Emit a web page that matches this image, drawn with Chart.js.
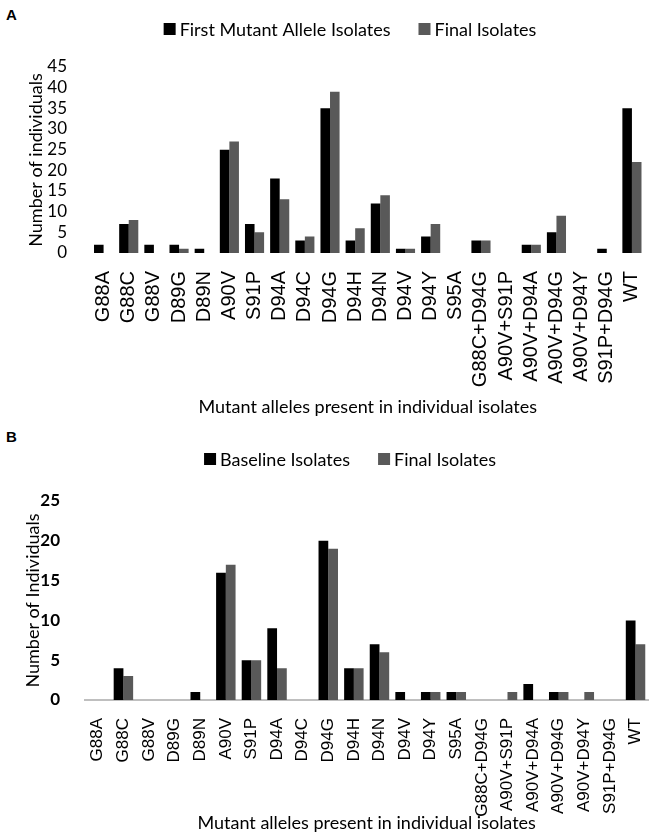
<!DOCTYPE html>
<html>
<head>
<meta charset="utf-8">
<script src="https://cdn.jsdelivr.net/npm/chart.js@4.4.1/dist/chart.umd.min.js"></script>
<style>
  body { margin:0; background:#fff; width:666px; height:837px; position:relative; overflow:hidden; }
  .panel { position:absolute; left:0; width:666px; }
  .tag { position:absolute; left:6px; font:bold 15px "Liberation Sans", Arial, sans-serif; color:#000; }
</style>
</head>
<body>
<div class="tag" style="top:6px">A</div>
<div class="tag" style="top:428px">B</div>
<canvas id="chartA" class="panel" style="top:0" width="666" height="420"></canvas>
<canvas id="chartB" class="panel" style="top:420px" width="666" height="417"></canvas>
<script>
/* ---------- data ---------- */
const alleles = ['G88A','G88C','G88V','D89G','D89N','A90V','S91P','D94A','D94C','D94G','D94H',
  'D94N','D94V','D94Y','S95A','G88C+D94G','A90V+S91P','A90V+D94A','A90V+D94G','A90V+D94Y','S91P+D94G','WT'];

// panel A
const firstMutantA = [2, 7, 2, 2, 1, 25, 7, 18, 3, 35, 3, 12, 1, 4, 0, 3, 0, 2, 5, 0, 1, 35];
const finalA       = [0, 8, 0, 1, 0, 27, 5, 13, 4, 39, 6, 14, 1, 7, 0, 3, 0, 2, 9, 0, 0, 22];
const yMaxA = 45;

// panel B
const baselineB = [0, 4, 0, 0, 1, 16, 5, 9, 0, 20, 4, 7, 1, 1, 1, 0, 0, 2, 1, 0, 0, 10];
const finalB    = [0, 3, 0, 0, 0, 17, 5, 4, 0, 19, 4, 6, 0, 1, 1, 0, 1, 0, 1, 1, 0, 7];
const yMaxB = 25;

const yStep = 5;
const BLACK = '#000000', GREY = '#595959';
const LATO = 'Lato, "Open Sans", sans-serif';
const ARIAL = '"Liberation Sans", Arial, sans-serif';

/* ---------- centred legend drawn above the plot ---------- */
const isoLegend = {
  id: 'isoLegend',
  afterDraw(chart, args, opts) {
    const ctx = chart.ctx;
    ctx.save();
    ctx.font = opts.font;
    ctx.textBaseline = 'middle';
    const items = chart.data.datasets.map(d => ({
      text: d.label, color: d.backgroundColor,
      w: opts.box + opts.textGap + ctx.measureText(d.label).width
    }));
    const total = items.reduce((s, it) => s + it.w, 0) + opts.gap * (items.length - 1);
    let x = opts.centerX - total / 2;
    items.forEach(it => {
      ctx.fillStyle = it.color;
      ctx.fillRect(x, opts.y - opts.box / 2, opts.box, opts.box);
      ctx.fillStyle = '#000';
      ctx.fillText(it.text, x + opts.box + opts.textGap, opts.y + 1);
      x += it.w + opts.gap;
    });
    ctx.restore();
  }
};

function makeChart(id, p) {
  return new Chart(document.getElementById(id), {
    type: 'bar',
    data: {
      labels: alleles,
      datasets: [
        { label: p.names[0], data: p.series[0], backgroundColor: BLACK },
        { label: p.names[1], data: p.series[1], backgroundColor: GREY }
      ]
    },
    options: {
      responsive: false,
      animation: false,
      layout: { padding: { top: p.top, right: 3, left: 0, bottom: 0 } },
      datasets: { bar: { categoryPercentage: 0.76, barPercentage: 1.0 } },
      plugins: {
        legend: { display: false },
        tooltip: { enabled: false },
        isoLegend: { centerX: 350, y: p.legendY, gap: 28, box: 12, textGap: 4, font: '18px ' + LATO }
      },
      scales: {
        x: {
          grid: { display: false },
          border: p.axisLine ? { display: true, color: '#bfbfbf', width: 2 } : { display: false },
          ticks: { autoSkip: false, maxRotation: 90, minRotation: 90, padding: p.labelPad,
                   color: '#000', font: { family: ARIAL, size: p.labelSize } },
          title: { display: true, text: 'Mutant alleles present in individual isolates', color: '#000',
                   font: { family: LATO, size: 18 }, padding: { top: 0, bottom: p.titleBottom } },
          afterFit: s => { s.height = p.xHeight; }
        },
        y: {
          min: 0, max: p.yMax,
          grid: { display: false },
          border: { display: false },
          ticks: { stepSize: yStep, autoSkip: false, padding: p.tickPad, color: '#000',
                   font: { family: LATO, size: p.tickSize, weight: p.boldTicks ? 'bold' : 'normal' } },
          title: { display: true, text: p.yTitle, color: '#000',
                   font: { family: LATO, size: 18 }, padding: { top: p.yTitlePad, bottom: 0 } },
          afterFit: s => { s.width = p.yWidth; }
        }
      }
    },
    plugins: [isoLegend]
  });
}

makeChart('chartA', {
  names: ['First Mutant Allele Isolates', 'Final Isolates'],
  series: [firstMutantA, finalA],
  yMax: yMaxA, yTitle: 'Number of individuals',
  top: 67, legendY: 29, yWidth: 91, xHeight: 167,
  tickPad: 16, tickSize: 17, yTitlePad: 25, labelPad: 10, labelSize: 20, titleBottom: 2,
  axisLine: false, boldTicks: false
});

makeChart('chartB', {
  names: ['Baseline Isolates', 'Final Isolates'],
  series: [baselineB, finalB],
  yMax: yMaxB, yTitle: 'Number of Individuals',
  top: 81, legendY: 39, yWidth: 85, xHeight: 137,
  tickPad: 17, tickSize: 17, yTitlePad: 22, labelPad: 10, labelSize: 17, titleBottom: 3,
  axisLine: true, boldTicks: true
});
</script>
</body>
</html>
